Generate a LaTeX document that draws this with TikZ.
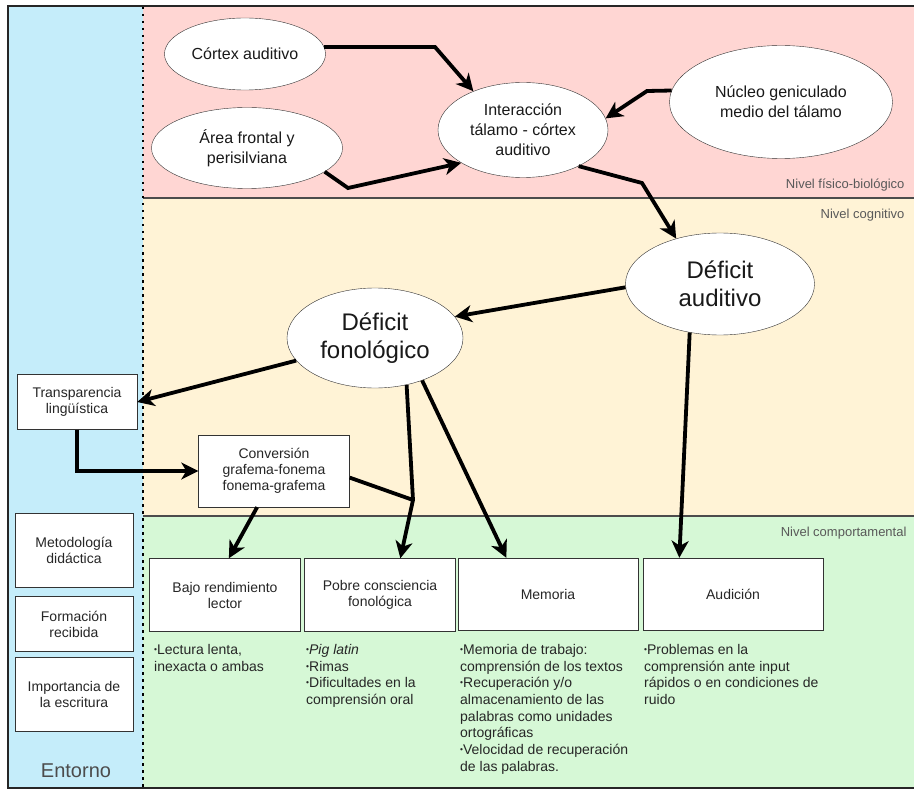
\documentclass[tikz,border=0pt]{standalone}
\usepackage{fontspec}
\setmainfont{Liberation Sans}
\usetikzlibrary{shapes.geometric,arrows.meta}
\definecolor{entornoBlue}{RGB}{197,237,250}
\definecolor{fisicoPink}{RGB}{255,214,211}
\definecolor{cognitivoYellow}{RGB}{255,243,214}
\definecolor{conductaGreen}{RGB}{214,248,214}
\newcommand{\bul}{\raisebox{0.25ex}{\scalebox{0.6}{\textbullet}}}

\begin{document}
\begin{tikzpicture}[x=1pt,y=-1pt,
    blob/.style={ellipse,draw=black!80,fill=white,inner sep=0pt,align=center,text=black!90,font=\fontsize{16}{20}\selectfont},
    bigblob/.style={blob,font=\fontsize{24}{28}\selectfont},
    box/.style={rectangle,draw=black!80,fill=white,inner sep=0pt,align=center,text=black!85,font=\fontsize{14}{16}\selectfont},
    conn/.style={line width=3.8pt,-{Stealth[length=17pt,width=17pt,inset=5pt]}},
    link/.style={line width=3.8pt},
    lvl/.style={anchor=east,text=black!65,font=\fontsize{13}{15}\selectfont},
    notes/.style={anchor=north west,align=left,inner sep=0pt,text=black!85,font=\fontsize{14}{16.7}\selectfont}]
    \useasboundingbox (0,0) rectangle (914,789);

    \fill[entornoBlue] (8,6) rectangle (143,788);
    \fill[fisicoPink] (143,6) rectangle (916,198);
    \fill[cognitivoYellow] (143,198) rectangle (916,516);
    \fill[conductaGreen] (143,516) rectangle (916,788);
    \draw[black!70,line width=1.2pt] (143,198) -- (916,198) (143,516) -- (916,516);
    \draw[line width=2.5pt,dash pattern=on 2.5pt off 4.5pt] (143,7) -- (143,788);
    \draw[black!85,line width=2pt] (8,6) rectangle (918,788);

    \node[lvl] (lvlfis) at (908,185) {Nivel físico-biológico};
    \node[lvl] (lvlcog) at (908,215) {Nivel cognitivo};
    \node[lvl] (lvlcom) at (910,533) {Nivel comportamental};
    \node[text=black!70,font=\fontsize{20}{24}\selectfont] (entorno) at (76,771) {Entorno};

    \node[blob,minimum width=161pt,minimum height=72pt] (cortex) at (245,54) {Córtex auditivo};
    \node[blob,minimum width=191pt,minimum height=81pt] (area) at (247,148) {Área frontal y\\perisilviana};
    \node[blob,minimum width=170pt,minimum height=95pt] (inter) at (523,130) {Interacción\\tálamo - córtex\\auditivo};
    \node[blob,minimum width=223pt,minimum height=113pt] (nucleo) at (781,102) {Núcleo geniculado\\medio del tálamo};
    \node[bigblob,minimum width=189pt,minimum height=102pt] (defaud) at (720,284) {Déficit\\auditivo};
    \node[bigblob,minimum width=176pt,minimum height=100pt] (defon) at (375,338) {Déficit\\fonológico};

    \node[box,minimum width=120pt,minimum height=55pt] (transp) at (77,402) {Transparencia\\lingüística};
    \node[box,minimum width=151pt,minimum height=72pt] (conv) at (274,471) {Conversión\\grafema-fonema\\fonema-grafema};
    \node[box,minimum width=118pt,minimum height=74pt] (metod) at (74,550) {Metodología\\didáctica};
    \node[box,minimum width=118pt,minimum height=55pt] (formac) at (74,624) {Formación\\recibida};
    \node[box,minimum width=118pt,minimum height=74pt] (import) at (74,694) {Importancia de\\la escritura};

    \node[box,minimum width=151pt,minimum height=73pt] (bajo) at (225,595) {Bajo rendimiento\\lector};
    \node[box,minimum width=151pt,minimum height=73pt] (pobre) at (380,595) {Pobre consciencia\\fonológica};
    \node[box,minimum width=180pt,minimum height=72pt] (memoria) at (548,594) {Memoria};
    \node[box,minimum width=180pt,minimum height=72pt] (audicion) at (733,594) {Audición};

    \node[notes] (bajonotes) at (154,644) {\bul Lectura lenta,\\inexacta o ambas};
    \node[notes] (pobrenotes) at (306,644) {\bul\textit{Pig latin}\\\bul Rimas\\\bul Dificultades en la\\comprensión oral};
    \node[notes] (memnotes) at (460,644) {\bul Memoria de trabajo:\\comprensión de los textos\\\bul Recuperación y/o\\almacenamiento de las\\palabras como unidades\\ortográficas\\\bul Velocidad de recuperación\\de las palabras.};
    \node[notes] (audnotes) at (644,644) {\bul Problemas en la\\comprensión ante input\\rápidos o en condiciones de\\ruido};

    \coordinate (kcortex) at (435,47);
    \coordinate (karea) at (348,188);
    \coordinate (knucleo) at (647,91);
    \coordinate (kinter) at (642,183);
    \coordinate (kjunc) at (413,500);

    \draw[conn] (cortex.5) -- (kcortex) -- (inter.142);
    \draw[conn] (area.-17) -- (karea) -- (inter.208);
    \draw[conn] (nucleo.174) -- (knucleo) -- (inter.8);
    \draw[conn] (inter.-33) -- (kinter) -- (defaud.134);
    \draw[conn] (defaud.182) -- (defon.15);
    \draw[conn] (defaud.238) -- (audicion.146.8);
    \draw[conn] (defon.196) -- (transp.east);
    \draw[conn] (transp.south) |- (conv.west);
    \draw[conn] (defon.-56) -- (kjunc) -- (pobre.61);
    \draw[link] (conv.-5) -- (kjunc);
    \draw[conn] (conv.245) -- (bajo.84);
    \draw[conn] (defon.-42) -- (memoria.139);
\end{tikzpicture}
\end{document}
